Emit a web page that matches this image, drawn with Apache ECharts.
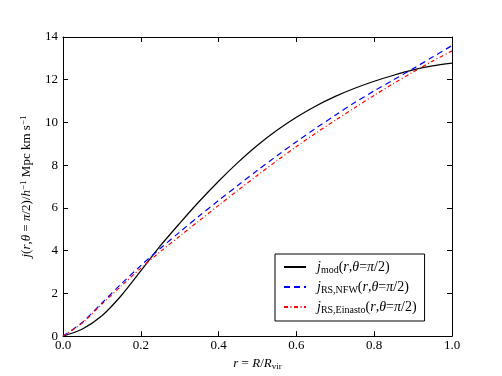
<!DOCTYPE html>
<html><head><meta charset="utf-8">
<script src="https://cdn.jsdelivr.net/npm/echarts@6/dist/echarts.min.js"></script>
<style>html,body{margin:0;padding:0;background:#fff}#c{width:502px;height:376px}</style>
</head><body><div id="c"></div>
<script>
const rValues = [0,0.05,0.1,0.15,0.2,0.25,0.3,0.35,0.4,0.45,0.5,0.55,0.6,0.65,0.7,0.75,0.8,0.85,0.9,0.95,1.0];
const jMod =     [0,0.33,0.95,1.9,3.05,4.22,5.28,6.3,7.25,8.13,8.93,9.63,10.24,10.77,11.22,11.6,11.93,12.21,12.46,12.65,12.78];
const jNFW =     [0,0.65,1.55,2.45,3.3,4.1,4.87,5.62,6.35,7.06,7.76,8.44,9.1,9.73,10.34,10.93,11.48,12.0,12.52,13.06,13.6];
const jEinasto = [0,0.62,1.5,2.35,3.18,3.95,4.68,5.4,6.12,6.83,7.53,8.21,8.87,9.5,10.1,10.69,11.27,11.83,12.36,12.87,13.35];
const xTicks = [0,0.2,0.4,0.6,0.8,1.0];
const yTicks = [0,2,4,6,8,10,12,14];
const seriesNames = ['mod','nfw','ein'];

const pairs = arr => rValues.map((r,i)=>[r,arr[i]]);
const FONT = 'Liberation Serif';
const mk = fs => ({
  it:{fontFamily:FONT,fontStyle:'italic',fontSize:fs,color:'#000'},
  n:{fontFamily:FONT,fontSize:fs,color:'#000'},
  sub:{fontFamily:FONT,fontSize:Math.round(fs*0.68),color:'#000',padding:[6,0,0,0]},
  sup:{fontFamily:FONT,fontSize:Math.round(fs*0.68),color:'#000',padding:[0,0,6,0]}
});
const legendText = {
  mod:'{it|j}{sub|mod}{n|(}{it|r}{n|,}{it|θ}{n|=}{it|π}{n|/2)}',
  nfw:'{it|j}{sub|RS,NFW}{n|(}{it|r}{n|,}{it|θ}{n|=}{it|π}{n|/2)}',
  ein:'{it|j}{sub|RS,Einasto}{n|(}{it|r}{n|,}{it|θ}{n|=}{it|π}{n|/2)}'
};
const axisCommon = {
  axisLine:{show:true,onZero:false,lineStyle:{color:'#000',width:1}},
  axisTick:{show:true,inside:true,length:5,lineStyle:{color:'#000'}},
  splitLine:{show:false}
};
const chart = echarts.init(document.getElementById('c'),null,{renderer:'canvas'});
chart.setOption({
  animation:false,
  backgroundColor:'#fff',
  grid:{left:63,right:50,top:37,bottom:38},
  xAxis:[
    Object.assign({type:'value',min:0,max:1,interval:0.2,position:'bottom',
      axisLabel:{fontFamily:FONT,fontSize:13,color:'#000',margin:3,formatter:v=>v.toFixed(1)},
      name:'{it|r}{n| = }{it|R}{n|/}{it|R}{sub|vir}',nameLocation:'middle',nameGap:19,
      nameTextStyle:{rich:mk(13)}},axisCommon),
    Object.assign({type:'value',min:0,max:1,interval:0.2,position:'top',axisLabel:{show:false}},axisCommon)
  ],
  yAxis:[
    Object.assign({type:'value',min:0,max:14,interval:2,position:'left',
      axisLabel:{fontFamily:FONT,fontSize:13,color:'#000',margin:5},
      name:'{it|j}{n|(}{it|r}{n|,}{it|θ}{n| = }{it|π}{n|/2)/}{it|h}{sup|−1}{n| Mpc km s}{sup|−1}',
      nameLocation:'middle',nameGap:29,nameRotate:90,
      nameTextStyle:{rich:mk(13)}},axisCommon),
    Object.assign({type:'value',min:0,max:14,interval:2,position:'right',axisLabel:{show:false}},axisCommon)
  ],
  legend:{
    orient:'vertical',left:275,top:254,
    backgroundColor:'#fff',borderColor:'#000',borderWidth:1,borderRadius:0,
    padding:[6,8,6,8],itemGap:5,itemWidth:22,itemHeight:10,
    data:seriesNames,
    itemStyle:{opacity:0},
    formatter:n=>legendText[n],
    textStyle:{rich:mk(14),padding:[0,0,0,6]}
  },
  series:[
    {name:'mod',type:'line',data:pairs(jMod),smooth:0.3,showSymbol:false,symbol:'none',
      lineStyle:{color:'#000',width:1.2},itemStyle:{color:'#000'}},
    {name:'nfw',type:'line',data:pairs(jNFW),smooth:0.3,showSymbol:false,symbol:'none',
      lineStyle:{color:'#0000ff',width:1.2,type:[6,4]},itemStyle:{color:'#0000ff'}},
    {name:'ein',type:'line',data:pairs(jEinasto),smooth:0.3,showSymbol:false,symbol:'none',
      lineStyle:{color:'#ff0000',width:1.2,type:[4,2.5,1,2.5]},itemStyle:{color:'#ff0000'}}
  ]
});
</script></body></html>
